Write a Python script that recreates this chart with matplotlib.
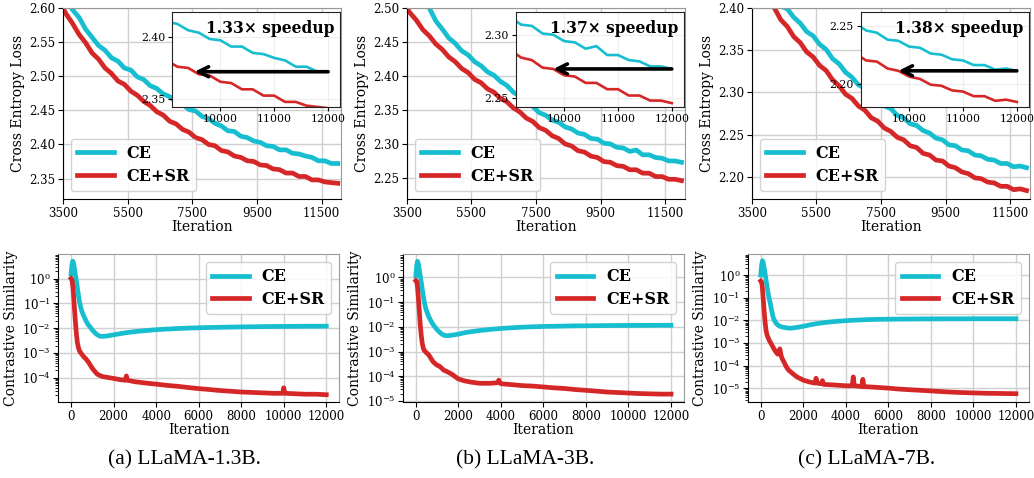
import matplotlib
matplotlib.use("Agg")
import matplotlib.pyplot as plt
import numpy as np

plt.rcParams["font.family"] = ["DejaVu Serif"]
plt.rcParams["mathtext.fontset"] = "dejavuserif"

CYAN = "#17becf"
RED = "#d62728"

# ---- data: cross entropy loss (iterations 3000..12000, step 200) ----
it_loss = list(range(3000, 12001, 200))

ce_13b = [2.668, 2.646, 2.629, 2.615, 2.597, 2.586, 2.569, 2.557, 2.545, 2.538,
          2.527, 2.522, 2.512, 2.509, 2.499, 2.495, 2.486, 2.482, 2.474, 2.470,
          2.462, 2.459, 2.451, 2.449, 2.441, 2.438, 2.431, 2.427, 2.420, 2.419,
          2.412, 2.410, 2.405, 2.403, 2.398, 2.397, 2.392, 2.392, 2.387, 2.386,
          2.383, 2.381, 2.376, 2.376, 2.372, 2.372]
sr_13b = [2.643, 2.624, 2.608, 2.591, 2.577, 2.561, 2.549, 2.534, 2.525, 2.512,
          2.504, 2.493, 2.488, 2.478, 2.472, 2.463, 2.457, 2.448, 2.443, 2.434,
          2.430, 2.422, 2.418, 2.410, 2.407, 2.400, 2.398, 2.391, 2.389, 2.383,
          2.381, 2.376, 2.375, 2.370, 2.369, 2.364, 2.363, 2.358, 2.358, 2.353,
          2.353, 2.348, 2.348, 2.345, 2.344, 2.343]

ce_3b = [2.622, 2.600, 2.583, 2.561, 2.539, 2.516, 2.500, 2.481, 2.469, 2.456,
         2.448, 2.437, 2.431, 2.421, 2.415, 2.406, 2.401, 2.392, 2.386, 2.376,
         2.370, 2.361, 2.355, 2.346, 2.342, 2.335, 2.332, 2.325, 2.322, 2.316,
         2.314, 2.308, 2.307, 2.301, 2.300, 2.295, 2.294, 2.289, 2.291, 2.284,
         2.284, 2.280, 2.279, 2.275, 2.275, 2.273]
sr_3b = [2.535, 2.519, 2.507, 2.493, 2.482, 2.468, 2.459, 2.447, 2.439, 2.428,
         2.421, 2.411, 2.405, 2.395, 2.390, 2.381, 2.376, 2.367, 2.362, 2.353,
         2.347, 2.338, 2.333, 2.324, 2.320, 2.312, 2.308, 2.300, 2.297, 2.290,
         2.288, 2.282, 2.280, 2.274, 2.273, 2.268, 2.267, 2.262, 2.262, 2.257,
         2.257, 2.252, 2.252, 2.248, 2.248, 2.246]

ce_7b = [2.490, 2.473, 2.461, 2.445, 2.433, 2.419, 2.411, 2.402, 2.399, 2.389,
         2.382, 2.372, 2.367, 2.357, 2.351, 2.340, 2.334, 2.324, 2.318, 2.309,
         2.305, 2.296, 2.292, 2.284, 2.281, 2.273, 2.270, 2.263, 2.261, 2.255,
         2.252, 2.246, 2.244, 2.238, 2.237, 2.232, 2.231, 2.226, 2.225, 2.221,
         2.220, 2.216, 2.216, 2.212, 2.213, 2.211]
sr_7b = [2.470, 2.454, 2.443, 2.429, 2.419, 2.407, 2.400, 2.386, 2.378, 2.366,
         2.359, 2.348, 2.342, 2.332, 2.326, 2.315, 2.308, 2.298, 2.293, 2.284,
         2.279, 2.270, 2.266, 2.258, 2.254, 2.247, 2.244, 2.237, 2.235, 2.228,
         2.226, 2.220, 2.219, 2.213, 2.211, 2.206, 2.204, 2.199, 2.198, 2.194,
         2.193, 2.189, 2.189, 2.185, 2.186, 2.184]

# ---- data: contrastive similarity ----
it_cs = [0, 40, 80, 120, 160, 200, 250, 300, 350, 400, 450, 500, 600, 700, 800,
         900, 1000, 1100, 1200, 1300, 1400, 1500, 1700, 2000, 2300, 2600, 3000,
         3500, 4000, 4500, 5000, 5500, 6000, 6500, 7000, 7500, 8000, 8500, 9000,
         9500, 10000, 10500, 11000, 11500, 12000]

cs_ce_13b = [1.5, 3.5, 5.0, 4.0, 2.5, 1.5, 0.8, 0.4, 0.2, 0.11, 0.07, 0.05, 0.03,
             0.02, 0.014, 0.011, 0.0085, 0.0068, 0.0057, 0.0050, 0.0047, 0.0047,
             0.0049, 0.0054, 0.0060, 0.0066, 0.0073, 0.0080, 0.0087, 0.0092,
             0.0097, 0.0101, 0.0104, 0.0107, 0.0109, 0.0111, 0.0113, 0.0114,
             0.0116, 0.0117, 0.0118, 0.0119, 0.0120, 0.0120, 0.0121]
cs_ce_3b = [1.2, 3.0, 4.5, 3.5, 2.2, 1.3, 0.7, 0.35, 0.18, 0.1, 0.065, 0.045, 0.027,
            0.018, 0.013, 0.0098, 0.0077, 0.0063, 0.0053, 0.0047, 0.0044, 0.0044,
            0.0046, 0.0051, 0.0058, 0.0064, 0.0071, 0.0079, 0.0086, 0.0092,
            0.0097, 0.0101, 0.0104, 0.0106, 0.0108, 0.0110, 0.0111, 0.0112,
            0.0113, 0.0114, 0.0114, 0.0115, 0.0115, 0.0116, 0.0116]
cs_ce_7b = [1.0, 2.8, 4.3, 3.4, 2.1, 1.2, 0.6, 0.3, 0.15, 0.085, 0.055, 0.03, 0.012,
            0.008, 0.0062, 0.0055, 0.0051, 0.0049, 0.0047, 0.0046, 0.0045, 0.0046,
            0.0049, 0.0055, 0.0063, 0.0071, 0.0080, 0.0090, 0.0097, 0.0103,
            0.0108, 0.0111, 0.0113, 0.0114, 0.0115, 0.0116, 0.0116, 0.0117,
            0.0117, 0.0117, 0.0118, 0.0118, 0.0118, 0.0118, 0.0118]

it_sr_13b = [0, 40, 80, 120, 160, 200, 250, 300, 350, 400, 500, 600, 700, 800, 900,
             1000, 1100, 1200, 1300, 1500, 1700, 2000, 2300, 2550, 2600, 2650, 3000,
             3500, 4000, 4500, 5000, 5500, 6000, 6500, 7000, 7500, 8000, 8500,
             9000, 9500, 9950, 10000, 10050, 10500, 11000, 11500, 12000]
cs_sr_13b = [1.0, 0.9, 0.5, 0.2, 0.06, 0.02, 0.006, 0.0025, 0.0016, 0.0012, 9e-4,
             7e-4, 5.8e-4, 4.5e-4, 3.3e-4, 2.4e-4, 1.9e-4, 1.5e-4, 1.3e-4, 1.12e-4,
             1.05e-4, 9.5e-5, 8.5e-5, 8e-5, 1.2e-4, 8e-5, 7e-5, 6.2e-5, 5.6e-5,
             5e-5, 4.6e-5, 4.1e-5, 3.7e-5, 3.4e-5, 3.1e-5, 2.9e-5, 2.7e-5, 2.6e-5,
             2.5e-5, 2.4e-5, 2.4e-5, 4e-5, 2.4e-5, 2.3e-5, 2.2e-5, 2.2e-5, 2.1e-5]

it_sr_3b = [0, 40, 80, 120, 160, 200, 250, 300, 350, 400, 500, 600, 700, 800, 900,
            1000, 1100, 1200, 1300, 1500, 1700, 2000, 2300, 2600, 3000, 3500, 3850,
            3900, 3950, 4000, 4500, 5000, 5500, 6000, 6500, 7000, 7500, 8000, 8500,
            9000, 9500, 10000, 10500, 11000, 11500, 12000]
cs_sr_3b = [0.75, 0.7, 0.4, 0.15, 0.05, 0.015, 0.005, 0.0022, 0.0014, 0.0011, 9e-4,
            7.5e-4, 5.5e-4, 4e-4, 3.3e-4, 2.8e-4, 2.6e-4, 2.2e-4, 1.8e-4, 1.5e-4,
            1.2e-4, 7.8e-5, 6.5e-5, 5.8e-5, 5.2e-5, 5.2e-5, 5.5e-5, 7e-5, 5.5e-5,
            5e-5, 4.6e-5, 4.2e-5, 4e-5, 3.7e-5, 3.4e-5, 3.2e-5, 2.9e-5, 2.7e-5,
            2.5e-5, 2.3e-5, 2.2e-5, 2.1e-5, 2e-5, 1.95e-5, 1.9e-5, 1.9e-5]

it_sr_7b = [0, 40, 80, 120, 160, 200, 250, 300, 350, 400, 500, 600, 700, 800, 850,
            900, 950, 1000, 1100, 1200, 1300, 1500, 1700, 2000, 2300, 2550, 2600,
            2650, 2850, 2900, 2950, 3500, 4000, 4300, 4350, 4400, 4750, 4800, 4850,
            5500, 6000, 6500, 7000, 7500, 8000, 8500, 9000, 9500, 10000, 10500,
            11000, 11500, 12000]
cs_sr_7b = [0.55, 0.5, 0.25, 0.08, 0.025, 0.009, 0.0035, 0.0022, 0.0017, 0.0013,
            9e-4, 6e-4, 4.2e-4, 3.2e-4, 4.5e-4, 5.5e-4, 3e-4, 2.1e-4, 1.4e-4, 9e-5,
            6.5e-5, 4.5e-5, 3.2e-5, 2.3e-5, 1.9e-5, 1.7e-5, 2.8e-5, 1.7e-5, 1.6e-5,
            2.2e-5, 1.5e-5, 1.4e-5, 1.3e-5, 1.3e-5, 3.2e-5, 1.3e-5, 1.2e-5, 2.5e-5,
            1.2e-5, 1.1e-5, 1.02e-5, 9.3e-6, 8.7e-6, 8.2e-6, 7.7e-6, 7.2e-6, 6.8e-6,
            6.5e-6, 6.3e-6, 6.1e-6, 6e-6, 5.9e-6, 5.8e-6]

speedups = ["1.33\u00d7 speedup", "1.37\u00d7 speedup", "1.38\u00d7 speedup"]
captions = ["(a) LLaMA-1.3B.", "(b) LLaMA-3B.", "(c) LLaMA-7B."]

loss_series = [(ce_13b, sr_13b), (ce_3b, sr_3b), (ce_7b, sr_7b)]
cs_series = [(cs_ce_13b, it_sr_13b, cs_sr_13b), (cs_ce_3b, it_sr_3b, cs_sr_3b),
             (cs_ce_7b, it_sr_7b, cs_sr_7b)]

main_ylims = [(2.320, 2.600), (2.219, 2.500), (2.174, 2.400)]
inset_ylims = [(2.344, 2.4195), (2.243, 2.318), (2.1797, 2.262)]
cs_ylims = [(1.07e-5, 9.7), (9.1e-6, 8.9), (2.5e-6, 8.5)]

top_left = [0.0609, 0.3933, 0.727]
bot_left = [0.0564, 0.3898, 0.7234]


def style_axes(ax):
    ax.grid(True, color="#d0d0d0", lw=1.0)
    ax.set_axisbelow(True)
    for s in ["top", "right"]:
        ax.spines[s].set_color("#999999")
    for s in ["left", "bottom"]:
        ax.spines[s].set_color("black")
    ax.tick_params(direction="out", length=3.5, labelsize=8.5, pad=2)


fig = plt.figure(figsize=(10.34, 4.78), dpi=100)

for i in range(3):
    ce, sr = loss_series[i]
    ax = fig.add_axes([top_left[i], 0.5837, 0.2689, 0.3996])
    style_axes(ax)
    ax.plot(it_loss, ce, color=CYAN, lw=3.4, label="CE")
    ax.plot(it_loss, sr, color=RED, lw=3.4, label="CE+SR")
    ax.set_xlim(3500, 12100)
    ax.set_ylim(*main_ylims[i])
    ax.set_xticks([3500, 5500, 7500, 9500, 11500])
    ax.set_yticks(np.arange(np.ceil(main_ylims[i][0] / 0.05) * 0.05, main_ylims[i][1] + 0.001, 0.05))
    ax.yaxis.set_major_formatter(matplotlib.ticker.FormatStrFormatter("%.2f"))
    ax.set_xlabel("Iteration", fontsize=10, labelpad=0)
    ax.set_ylabel("Cross Entropy Loss", fontsize=10, labelpad=3)
    ax.legend(loc="lower left", prop={"weight": "bold", "size": 11.5}, handlelength=2.3,
              edgecolor="#cccccc", framealpha=0.85, borderpad=0.4, labelspacing=0.35)

    ins = ax.inset_axes([0.392, 0.482, 0.604, 0.497])
    ins.plot(it_loss, ce, color=CYAN, lw=1.9)
    ins.plot(it_loss, sr, color=RED, lw=1.9)
    ins.set_xlim(9100, 12220)
    ins.set_ylim(*inset_ylims[i])
    ins.set_xticks([10000, 11000, 12000])
    ins.yaxis.set_major_locator(matplotlib.ticker.MultipleLocator(0.05))
    ins.yaxis.set_major_formatter(matplotlib.ticker.FormatStrFormatter("%.2f"))
    ins.tick_params(direction="out", length=3, labelsize=7.8, pad=2)
    ins.grid(True, color="#eeeeee", lw=0.8)
    ins.set_facecolor("white")
    for s in ins.spines.values():
        s.set_color("#222222")
    ce_end = ce[-1]
    x_cross = np.interp(-ce_end, [-v for v in sr], it_loss)
    ins.annotate("", xy=(x_cross, ce_end), xytext=(it_loss[-1], ce_end),
                 arrowprops=dict(arrowstyle="->", lw=2.6, color="black", mutation_scale=18,
                                 shrinkA=0, shrinkB=0))
    ins.text(0.97, 0.92, speedups[i], transform=ins.transAxes, ha="right", va="top",
             fontsize=11.2, fontweight="bold")

for i in range(3):
    ce, it_sr, sr = cs_series[i]
    ax = fig.add_axes([bot_left[i], 0.159, 0.2715, 0.3096])
    style_axes(ax)
    ax.plot(it_cs, ce, color=CYAN, lw=3.4, label="CE")
    ax.plot(it_sr, sr, color=RED, lw=3.4, label="CE+SR")
    ax.set_yscale("log")
    ax.set_xlim(-600, 12600)
    ax.set_ylim(*cs_ylims[i])
    ax.set_xticks(range(0, 12001, 2000))
    ax.yaxis.set_major_locator(matplotlib.ticker.LogLocator(base=10, numticks=12))
    ax.yaxis.set_minor_locator(matplotlib.ticker.LogLocator(base=10, subs=np.arange(2, 10), numticks=12))
    ax.yaxis.set_minor_formatter(matplotlib.ticker.NullFormatter())
    ax.tick_params(which="minor", length=2)
    ax.grid(False, which="minor")
    ax.set_xlabel("Iteration", fontsize=10, labelpad=0)
    ax.set_ylabel("Contrastive Similarity", fontsize=10, labelpad=3)
    ax.legend(loc="upper right", prop={"weight": "bold", "size": 11.5}, handlelength=2.3,
              edgecolor="#cccccc", framealpha=0.85, borderpad=0.4, labelspacing=0.35)

cap_x = [0.178, 0.508, 0.8385]
for i in range(3):
    fig.text(cap_x[i], 0.038, captions[i], ha="center", va="center", fontsize=15.5,
             family="Liberation Serif")

fig.savefig("out.png", dpi=100)
